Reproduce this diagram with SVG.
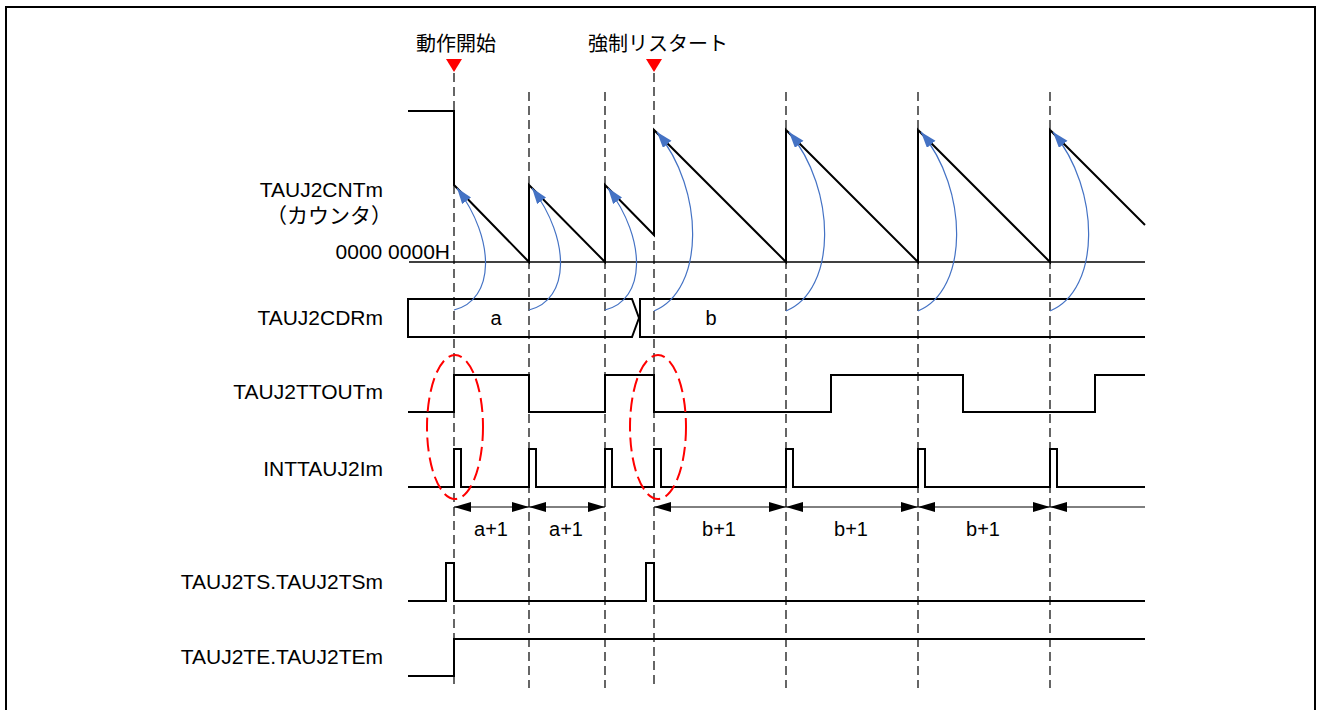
<svg xmlns="http://www.w3.org/2000/svg" width="1320" height="710" viewBox="0 0 1320 710">
<defs>
<style>
.lbl{font-family:"Liberation Sans",Arial,"Noto Sans CJK JP",sans-serif;font-size:21px;fill:#000}
.jp{font-family:"Noto Sans CJK JP","Liberation Sans",sans-serif;font-size:20px;fill:#000}
.sig{fill:none;stroke:#000;stroke-width:2;stroke-linejoin:miter}
.zero{fill:none;stroke:#000;stroke-width:1.3}
.grid{fill:none;stroke:#000;stroke-width:1.2;stroke-dasharray:9 5}
.blue{fill:none;stroke:#4472C4;stroke-width:1.2;marker-end:url(#bh)}
.dim{fill:none;stroke:#000;stroke-width:1}
.ell{fill:none;stroke:#FF0000;stroke-width:2;stroke-dasharray:14 6}
</style>
<marker id="bh" markerUnits="userSpaceOnUse" markerWidth="18" markerHeight="12" refX="16" refY="5.5" orient="auto">
<path d="M0,0 L16,5.5 L0,11 Z" fill="#4472C4"/>
</marker>
<marker id="ae" markerUnits="userSpaceOnUse" markerWidth="18" markerHeight="12" refX="17" refY="5" orient="auto">
<path d="M0,0 L17,5 L0,10 Z" fill="#000"/>
</marker>
<marker id="as" markerUnits="userSpaceOnUse" markerWidth="18" markerHeight="12" refX="0" refY="5" orient="auto">
<path d="M17,0 L0,5 L17,10 Z" fill="#000"/>
</marker>
</defs>
<rect width="1320" height="710" fill="#fff"/>
<rect x="6" y="7" width="1309" height="712" fill="none" stroke="#000" stroke-width="2"/>

<g id="gridlines">
<path class="grid" d="M454,73 V688 M529,92 V688 M605,92 V688 M654,73 V688 M786,92 V688 M918,92 V688 M1050,92 V688"/>
</g>

<g id="markers-top">
<text class="jp" x="456" y="51" text-anchor="middle">動作開始</text>
<path d="M446,59 L462,59 L454,72 Z" fill="#FF0000"/>
<text class="jp" x="658" y="51" text-anchor="middle">強制リスタート</text>
<path d="M646,59 L662,59 L654,72 Z" fill="#FF0000"/>
</g>

<g id="cnt">
<text class="lbl" x="383" y="197" text-anchor="end">TAUJ2CNTm</text>
<text class="lbl" x="392" y="223" text-anchor="end">（カウンタ）</text>
<text class="lbl" x="450" y="259" text-anchor="end">0000 0000H</text>
<path class="zero" d="M409,262 H1145"/>
<path class="sig" d="M408,111 H454 V185 L529,262 V185 L605,262 V185 L654,235 V130 L786,262 V130 L918,262 V130 L1050,262 V130 L1145,225"/>
</g>

<g id="cdr">
<text class="lbl" x="383" y="325" text-anchor="end">TAUJ2CDRm</text>
<path class="sig" d="M408,299 H632 L639,318 L632,337 H408 Z"/>
<path class="sig" d="M1145,299 H640 V337 H1145"/>
<text class="lbl" x="496" y="325" text-anchor="middle" style="font-size:20px">a</text>
<text class="lbl" x="711" y="325" text-anchor="middle" style="font-size:20px">b</text>
</g>

<g id="ttout">
<text class="lbl" x="383" y="399" text-anchor="end">TAUJ2TTOUTm</text>
<path class="sig" d="M408,412 H454 V375 H529 V412 H605 V375 H654 V412 H831 V375 H963 V412 H1095 V375 H1145"/>
</g>

<g id="int">
<text class="lbl" x="383" y="476" text-anchor="end">INTTAUJ2Im</text>
<path class="sig" d="M408,487 H454 V449 H461 V487 H529 V449 H536 V487 H605 V449 H612 V487 H654 V449 H661 V487 H786 V449 H793 V487 H918 V449 H925 V487 H1050 V449 H1057 V487 H1145"/>
</g>

<g id="ts">
<text class="lbl" x="383" y="589" text-anchor="end">TAUJ2TS.TAUJ2TSm</text>
<path class="sig" d="M408,601 H446 V563 H454 V601 H646 V563 H654 V601 H1145"/>
</g>

<g id="te">
<text class="lbl" x="383" y="664" text-anchor="end">TAUJ2TE.TAUJ2TEm</text>
<path class="sig" d="M408,676 H454 V639 H1145"/>
</g>

<g id="highlights">
<ellipse class="ell" cx="455" cy="427" rx="28" ry="72"/>
<ellipse class="ell" cx="658" cy="427" rx="28" ry="72"/>
</g>

<g id="connectors">
<path class="blue" d="M454,310 C495,300 496,240 457,188"/>
<path class="blue" d="M529,310 C570,300 571,240 532,188"/>
<path class="blue" d="M605,310 C646,300 647,240 608,188"/>
<path class="blue" d="M654,311 C705,290 705,190 657,132"/>
<path class="blue" d="M786,311 C837,290 837,190 789,132"/>
<path class="blue" d="M918,311 C969,290 969,190 921,132"/>
<path class="blue" d="M1050,311 C1101,290 1101,190 1053,132"/>
<path class="dim" d="M454,507 H529" marker-start="url(#as)" marker-end="url(#ae)"/>
<path class="dim" d="M529,507 H605" marker-start="url(#as)" marker-end="url(#ae)"/>
<path class="dim" d="M654,507 H786" marker-start="url(#as)" marker-end="url(#ae)"/>
<path class="dim" d="M786,507 H918" marker-start="url(#as)" marker-end="url(#ae)"/>
<path class="dim" d="M918,507 H1050" marker-start="url(#as)" marker-end="url(#ae)"/>
<path class="dim" d="M1050,507 H1145" marker-start="url(#as)"/>
</g>

<g id="dim-labels">
<text class="lbl" x="491" y="536" text-anchor="middle" style="font-size:20px">a+1</text>
<text class="lbl" x="566" y="536" text-anchor="middle" style="font-size:20px">a+1</text>
<text class="lbl" x="719" y="536" text-anchor="middle" style="font-size:20px">b+1</text>
<text class="lbl" x="851" y="536" text-anchor="middle" style="font-size:20px">b+1</text>
<text class="lbl" x="983" y="536" text-anchor="middle" style="font-size:20px">b+1</text>
</g>
</svg>
